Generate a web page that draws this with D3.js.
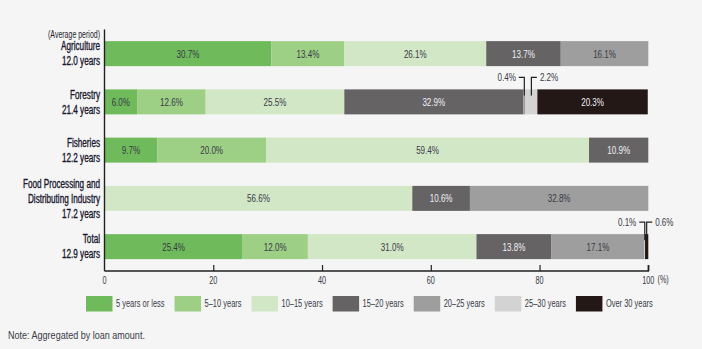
<!DOCTYPE html>
<html><head><meta charset="utf-8">
<script src="https://cdn.jsdelivr.net/npm/d3@7"></script>
<style>
html,body{margin:0;padding:0;background:#f4f5f4;}
svg{display:block;font-family:"Liberation Sans",Arial,sans-serif;}
</style></head>
<body><svg id="chart" width="702" height="349"></svg>
<script>
const categories = ["Agriculture","Forestry","Fisheries","Food Processing and Distributing Industry","Total"];
const categoryLines = [["Agriculture","12.0 years"],["Forestry","21.4 years"],["Fisheries","12.2 years"],["Food Processing and","Distributing Industry","17.2 years"],["Total","12.9 years"]];
const seriesNames = ["5 years or less","5–10 years","10–15 years","15–20 years","20–25 years","25–30 years","Over 30 years"];
const s5orLess  = [30.7, 6.0, 9.7, 0, 25.4];
const s5to10    = [13.4, 12.6, 20.0, 0, 12.0];
const s10to15   = [26.1, 25.5, 59.4, 56.6, 31.0];
const s15to20   = [13.7, 32.9, 10.9, 10.6, 13.8];
const s20to25   = [16.1, 0.4, 0, 32.8, 17.1];
const s25to30   = [0, 2.2, 0, 0, 0.1];
const sOver30   = [0, 20.3, 0, 0, 0.6];
const xTicks = [0,20,40,60,80,100];

const seriesValues = [s5orLess,s5to10,s10to15,s15to20,s20to25,s25to30,sOver30];
const colors = ["#6fbb5b","#9dcf85","#d2e7c6","#656363","#9d9e9d","#d3d3d3","#231815"];
const textColors = ["#3a3a48","#3a3a48","#3a3a48","#eeeef8","#3a3a48","#3a3a48","#eeeef8"];

const rows = categories.map((c,i)=>{const r={cat:c}; seriesNames.forEach((s,j)=>r[s]=seriesValues[j][i]); return r;});
const stacked = d3.stack().keys(seriesNames)(rows);

const svg = d3.select("#chart");
const x = d3.scaleLinear().domain([0,100]).range([104.5,648.3]);
const y = d3.scaleBand().domain(categories).range([29.5,270.75]).paddingInner(0.482).paddingOuter(0.241);

const axisColor = "#231f20";
const txtColor = "#3a3a48";

function ctext(px, py, str, o){
  const sx = o.sx||0.7;
  const g = svg.append("g").attr("transform",`translate(${px},${py}) scale(${sx},1)`);
  const t = g.append("text").attr("x",0).attr("y",0).attr("dy","0.35em")
    .attr("text-anchor",o.anchor||"start").attr("font-size",o.size||11.5)
    .attr("fill",o.fill||txtColor).text(str);
  if (o.weight) t.attr("font-weight",o.weight);
  if (o.stroke) t.attr("stroke",o.fill||txtColor).attr("stroke-width",o.stroke);
  return t.node().getComputedTextLength()*sx;
}

// bars
const layers = svg.append("g").selectAll("g").data(stacked).join("g").attr("fill",(d,i)=>colors[i]);
layers.selectAll("rect").data(d=>d.map(v=>({v,key:d.key}))).join("rect")
  .attr("x",d=>x(d.v[0])).attr("width",d=>Math.max(0,x(d.v[1])-x(d.v[0])))
  .attr("y",d=>y(d.v.data.cat)).attr("height",y.bandwidth());

// labels inside bars
stacked.forEach((layer,si)=>{
  layer.forEach(v=>{
    const val = v[1]-v[0];
    if (val >= 5) {
      ctext((x(v[0])+x(v[1]))/2, y(v.data.cat)+y.bandwidth()/2, val.toFixed(1)+"%",
        {anchor:"middle", size:11.5, sx:0.7, fill:textColors[si]});
    }
  });
});

// callouts for small segments
function callout(cat, si, side){
  const v = stacked[si].find(d=>d.data.cat===cat);
  const val = v[1]-v[0];
  const cx = (x(v[0])+x(v[1]))/2;
  const top = y(cat);
  const ly = top - 12;
  const hx = side<0 ? cx-5.5 : cx+5.5;
  svg.append("path").attr("d",`M${hx},${ly}H${cx}V${top+6}`).attr("fill","none").attr("stroke",axisColor).attr("stroke-width",1.2);
  ctext(side<0 ? hx-3 : hx+3, ly-0.5, val.toFixed(1)+"%", {anchor: side<0?"end":"start", size:11.5, sx:0.7});
}
callout("Forestry",4,-1);
callout("Forestry",5,1);
callout("Total",5,-1);
callout("Total",6,1);

// y axis line
svg.append("line").attr("x1",104.5).attr("x2",104.5).attr("y1",29.5).attr("y2",271).attr("stroke",axisColor).attr("stroke-width",1.4);

// x axis
const xAxis = d3.axisBottom(x).tickValues(xTicks).tickSize(-6).tickFormat("");
const gx = svg.append("g").attr("transform","translate(0,271)").call(xAxis);
gx.select(".domain").attr("stroke",axisColor).attr("stroke-width",1.4).attr("d",`M104.5,0H648.3V-6`);
gx.selectAll(".tick line").attr("stroke",axisColor).attr("stroke-width",1.2).filter(d=>d===0).remove();
xTicks.forEach(t=>ctext(x(t), 280, d3.format("d")(t), {anchor:"middle", size:11, sx:0.66}));
ctext(657.5, 279.5, "(%)", {size:11, sx:0.66});

// category labels
ctext(100, 34, "(Average period)", {anchor:"end", size:10, sx:0.7, fill:"#1f1c2e"});
categoryLines.forEach((lines,i)=>{
  const cy = y(categories[i]) + y.bandwidth()/2;
  const n = lines.length;
  lines.forEach((t,k)=>{
    ctext(100, cy+(k-(n-1)/2)*15, t, {anchor:"end", size:12, sx:0.68, fill:"#1a1830", stroke:0.35});
  });
});

// legend
let lx = 86;
seriesNames.forEach((s,i)=>{
  svg.append("rect").attr("x",lx).attr("y",296).attr("width",26.5).attr("height",15.5).attr("fill",colors[i]);
  const w = ctext(lx+30, 303.5, s, {size:11, sx:0.68});
  lx += 30 + w + 10;
});

// note
ctext(8, 335, "Note: Aggregated by loan amount.", {size:10.5, sx:0.86});
</script></body></html>
